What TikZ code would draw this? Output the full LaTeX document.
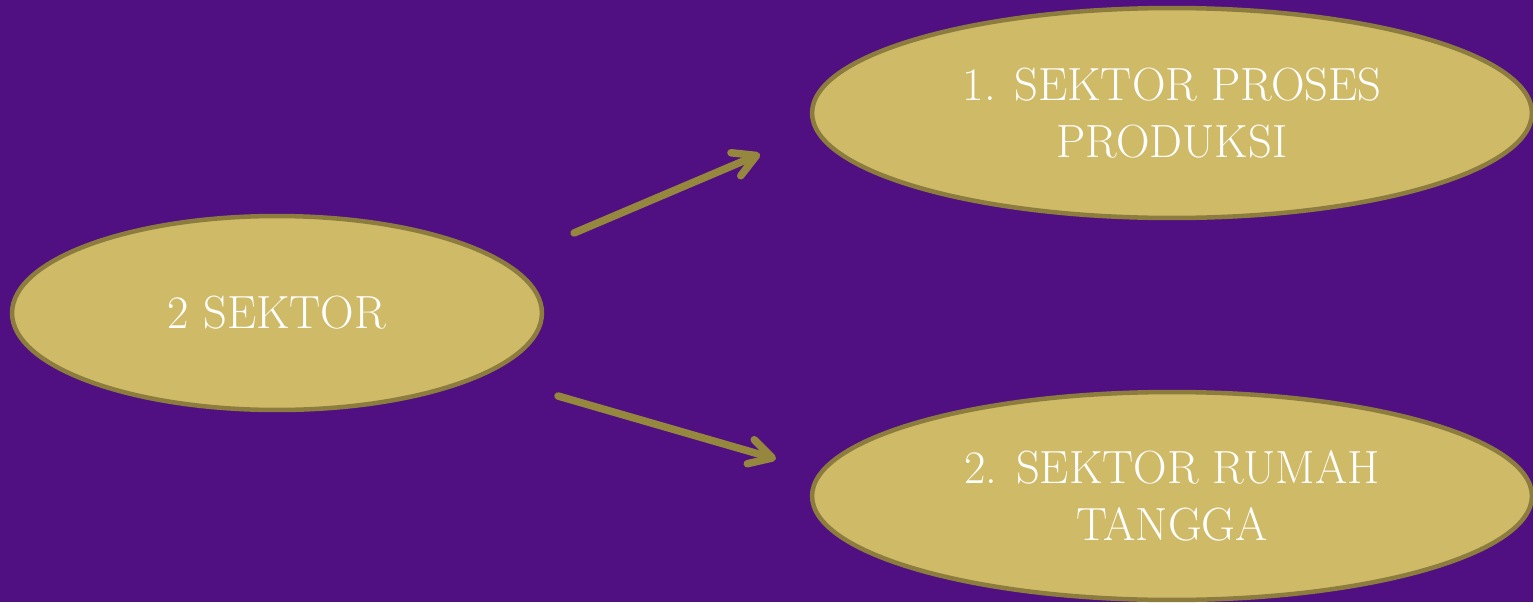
\documentclass[tikz,border=0pt]{standalone}
\usetikzlibrary{shapes.geometric,arrows.meta}
\definecolor{bgpurple}{RGB}{80,16,130}
\definecolor{ellfill}{RGB}{207,186,104}
\definecolor{ellborder}{RGB}{140,124,62}
\definecolor{arrowcol}{RGB}{150,135,62}
\tikzset{
  oval/.style={ellipse, draw=ellborder, fill=ellfill, line width=0.09cm, inner sep=0pt,
    text=white, align=center, font=\fontsize{26.5}{32}\selectfont},
  flow/.style={draw=arrowcol, line width=0.15cm, line cap=round,
    -{Straight Barb[length=0.45cm,width=0.5cm,round]}}
}
\begin{document}
\begin{tikzpicture}[x=0.02cm,y=-0.02cm]
\fill[bgpurple] (0,0) rectangle (1533,602);
\useasboundingbox (0,0) rectangle (1533,602);
\node[oval, minimum width=10.6cm, minimum height=3.88cm] (src) at (277,313) {2 SEKTOR};
\node[oval, minimum width=14.4cm, minimum height=4.2cm] (prod) at (1172,113) {1. SEKTOR PROSES\\PRODUKSI};
\node[oval, minimum width=14.4cm, minimum height=4.16cm] (rt) at (1172,496) {2. SEKTOR RUMAH\\TANGGA};
\coordinate (a1s) at (574,233);
\coordinate (a1e) at (760,154);
\coordinate (a2s) at (558,396);
\coordinate (a2e) at (776,459);
\draw[flow] (a1s) -- (a1e);
\draw[flow] (a2s) -- (a2e);
\end{tikzpicture}
\end{document}
